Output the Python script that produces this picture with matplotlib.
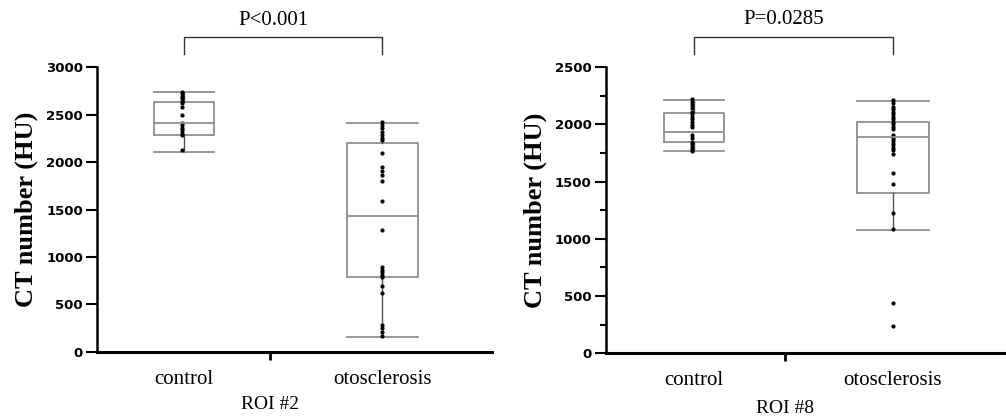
import matplotlib.pyplot as plt
import matplotlib.transforms as mtransforms

# categories and labels
groups = ['control', 'otosclerosis']
panels = ['ROI #2', 'ROI #8']
pvals = ['P<0.001', 'P=0.0285']

# ROI #2 individual values (HU)
roi2_control = [2740, 2723, 2695, 2670, 2645, 2618, 2582, 2495, 2407, 2386,
                2361, 2337, 2309, 2284, 2126]
roi2_oto = [2424, 2389, 2354, 2319, 2284, 2249, 2232, 2092, 1951, 1908, 1863,
            1803, 1589, 1284, 892, 863, 839, 811, 786, 698, 618, 284, 249,
            214, 168]

# ROI #8 individual values (HU)
roi8_control = [2220, 2197, 2168, 2139, 2109, 2089, 2066, 2043, 2022, 1993,
                1973, 1906, 1877, 1847, 1827, 1804, 1781, 1768]
roi8_oto = [2212, 2183, 2154, 2131, 2110, 2089, 2066, 2043, 2022, 2002, 1978,
            1958, 1906, 1885, 1862, 1839, 1816, 1795, 1775, 1737, 1576, 1477,
            1226, 1084, 443, 239]

# box statistics as drawn (control, otosclerosis)
roi2_whislo = [2102, 155]
roi2_q1 = [2284, 793]
roi2_med = [2407, 1432]
roi2_q3 = [2635, 2197]
roi2_whishi = [2737, 2414]

roi8_whislo = [1766, 1081]
roi8_q1 = [1842, 1401]
roi8_med = [1935, 1891]
roi8_q3 = [2095, 2022]
roi8_whishi = [2212, 2203]

roi2_ticks = [0, 500, 1000, 1500, 2000, 2500, 3000]
roi8_ticks = [0, 500, 1000, 1500, 2000, 2500]

fig = plt.figure(figsize=(10.06, 4.17), dpi=100)
ax1 = fig.add_axes([0.0964, 0.156, 0.393, 0.683])
ax2 = fig.add_axes([0.602, 0.153, 0.398, 0.686])

serif = 'Liberation Serif'
boxcol = '#8f8f8f'


def panel(ax, ctrl, oto, wlo, q1, med, q3, whi, ticks, xlim, midtick, roi, ptext, minor, roi_y):
    stats = []
    for i in range(2):
        stats.append(dict(whislo=wlo[i], q1=q1[i], med=med[i], q3=q3[i],
                          whishi=whi[i], fliers=[]))
    widths = [0.30, 0.36]
    ax.bxp(stats, positions=[0, 1], widths=widths, capwidths=widths,
           showfliers=False, manage_ticks=False,
           boxprops=dict(color=boxcol, linewidth=1.3),
           medianprops=dict(color=boxcol, linewidth=1.3),
           whiskerprops=dict(color='#555555', linewidth=1.0),
           capprops=dict(color=boxcol, linewidth=1.3))
    ax.plot([-0.01] * len(ctrl), ctrl, 'o', color='black', markersize=2.0)
    ax.plot([1.0] * len(oto), oto, 'o', color='black', markersize=2.0)

    ax.set_xlim(*xlim)
    ax.set_ylim(0, ticks[-1])
    ax.set_yticks(ticks)
    ax.set_yticklabels([str(t) for t in ticks], fontweight='bold', fontsize=9.5,
                       family='DejaVu Sans')
    if minor:
        ax.set_yticks([t + 250 for t in ticks[:-1]], minor=True)
        ax.tick_params(axis='y', which='minor', length=4, width=1.5)
    ax.tick_params(axis='y', which='major', length=8, width=1.5, pad=2)
    ax.set_xticks([0, 1])
    ax.set_xticklabels(groups, family=serif, fontsize=15)
    ax.tick_params(axis='x', which='major', length=0, pad=13)
    ax.set_xticks([midtick], minor=True)
    ax.tick_params(axis='x', which='minor', length=6, width=2, direction='out')
    ax.set_ylabel('CT number (HU)', family=serif, fontsize=19, fontweight='bold',
                  labelpad=6)
    for s in ['top', 'right']:
        ax.spines[s].set_visible(False)
    ax.spines['left'].set_linewidth(1.8)
    ax.spines['bottom'].set_linewidth(2.2)

    tr = mtransforms.blended_transform_factory(ax.transData, ax.transAxes)
    # panel label under the middle tick
    ax.text(midtick, roi_y, roi, transform=tr, ha='center', va='center',
            family=serif, fontsize=14)
    # significance bracket above the plot
    ax.plot([0, 0, 1, 1], [1.046, 1.105, 1.105, 1.046], color='#333333',
            linewidth=1.0, transform=tr, clip_on=False)
    ax.text(0.45, 1.165, ptext, transform=tr, ha='center', va='center',
            family=serif, fontsize=15)


panel(ax1, roi2_control, roi2_oto, roi2_whislo, roi2_q1, roi2_med, roi2_q3,
      roi2_whishi, roi2_ticks, (-0.44, 1.556), 0.434, panels[0], pvals[0], False, -0.186)
panel(ax2, roi8_control, roi8_oto, roi8_whislo, roi8_q1, roi8_med, roi8_q3,
      roi8_whishi, roi8_ticks, (-0.442, 1.568), 0.457, panels[1], pvals[1], True, -0.192)

fig.savefig('out.png', dpi=100, facecolor='white')
